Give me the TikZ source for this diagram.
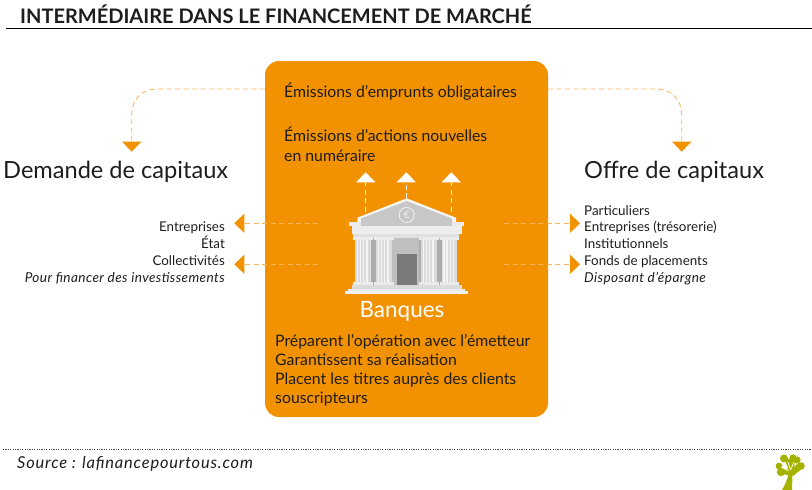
\documentclass[tikz,border=0pt]{standalone}
\usepackage{fontspec}
\setmainfont{Lato}
\usetikzlibrary{arrows.meta, positioning}
\definecolor{banqueorange}{HTML}{F39200}
\definecolor{fluxorange}{HTML}{F8B560}
\definecolor{treegreen}{HTML}{A5B300}
\definecolor{textgray}{HTML}{1D1D1B}

\begin{document}
\begin{tikzpicture}[x=1pt,y=-1pt,font=\color{textgray}]
        \tikzstyle{titre}=[anchor=base west,inner sep=0pt,font=\fontsize{20}{20}\selectfont\bfseries\color{textgray}]
        \tikzstyle{grand}=[anchor=base west,inner sep=0pt,font=\fontsize{23.6}{23.6}\selectfont\color{textgray}]
        \tikzstyle{moyen}=[anchor=base west,inner sep=0pt,font=\fontsize{15.8}{15.8}\selectfont\color{textgray}]
        \tikzstyle{petit}=[anchor=base west,inner sep=0pt,font=\fontsize{13.4}{13.4}\selectfont\color{textgray}]
        \tikzstyle{petitd}=[petit,anchor=base east]
        \tikzstyle{italique}=[font=\fontsize{13.6}{13.6}\selectfont\itshape\addfontfeature{LetterSpace=3}\color{textgray}]
        \tikzstyle{flux}=[draw=fluxorange,line width=0.9pt,dash pattern=on 5pt off 3.5pt,-{Triangle[length=10pt,width=19pt,color=banqueorange]}]
        \tikzstyle{fluxblanc}=[draw=white,line width=0.8pt,dash pattern=on 5pt off 3.5pt,-{Triangle[length=10pt,width=19pt,color=white]}]

        \useasboundingbox (0,0) rectangle (812,490);

        % Title and rules
        \node[titre] (titre) at (20,23) {INTERMÉDIAIRE DANS LE FINANCEMENT DE MARCHÉ};
        \coordinate (r1) at (6,28.5);
        \coordinate (r2) at (812,28.5);
        \draw[black,line width=0.9pt] (r1) -- (r2);
        \coordinate (p1) at (3,449.5);
        \coordinate (p2) at (812,449.5);
        \draw[black!70,line width=1pt,dash pattern=on 1.2pt off 1.2pt] (p1) -- (p2);
        \node[anchor=base west,inner sep=0pt,font=\fontsize{16.4}{16.4}\selectfont\itshape\addfontfeature{LetterSpace=5}\color{textgray}] (source) at (17,468) {Source : lafinancepourtous.com};

        % Orange box
        \node[fill=banqueorange,rounded corners=14pt,minimum width=283pt,minimum height=356pt,inner sep=0pt] (boite) at (406.5,239) {};

        \node[moyen] (em1) at (284,97) {Émissions d’emprunts obligataires};
        \node[moyen] (em2) at (284,141) {Émissions d’actions nouvelles};
        \node[moyen] (em3) at (284,161) {en numéraire};

        % Bank building
        \fill[black!4] (357.3,217.7) -- (406.7,198.3) -- (456,217.7) -- (456,226) -- (357.3,226) -- cycle;
        \fill[black!22] (361,218.5) -- (406.7,201) -- (452,218.5) -- (452,226) -- (361,226) -- cycle;
        \draw[black!5,line width=0.8pt] (406.7,215) circle (7.5);
        \node[inner sep=0pt,black!5,font=\fontsize{10}{10}\selectfont] (euro) at (406.7,215) {€};
        \fill[black!8] (349.3,222.3) rectangle (360.7,226);
        \fill[black!8] (452,222.3) rectangle (464,226);
        \fill[black!32] (370,236) rectangle (443,285);
        \fill[black!25] (392,236) rectangle (419,285);
        \fill[black!52] (396.7,254) rectangle (416.7,285);
        \fill[black!7] (351.7,226) rectangle (461.7,234);
        \fill[black!12] (353.3,234) rectangle (459.3,238);
        \foreach \x in {353.3,374.3,419.3,440}
        {
            \fill[black!8] (\x,236.7) rectangle +(19.3,3);
            \fill[black!14] (\x+2,239.7) rectangle +(15.3,42);
            \foreach \s in {1,...,4}
                \fill[black!4] (\x+\s*3.2,239.7) rectangle +(1.5,42);
            \fill[black!8] (\x,281.7) rectangle +(19.3,3.3);
        }
        \fill[black!14] (351.7,285) rectangle (461.7,289);
        \fill[black!8] (348,289) rectangle (465,291);
        \fill[black!5] (345,291) rectangle (468.3,294.3);

        \node[anchor=base,inner sep=0pt,font=\fontsize{22.5}{22.5}\selectfont\color{white}] (banques) at (402,317) {Banques};

        % Upward arrows
        \coordinate (u1) at (365.7,211.7);
        \coordinate (v1) at (365.7,172.3);
        \coordinate (u2) at (406.3,198);
        \coordinate (v2) at (406.3,172.3);
        \coordinate (u3) at (451.3,211.7);
        \coordinate (v3) at (451.3,172.3);
        \foreach \i in {1,2,3}
            \draw[fluxblanc] (u\i) -- (v\i);

        \node[moyen] (b1) at (275,346) {Préparent l’opération avec l’émetteur};
        \node[moyen] (b2) at (275,365) {Garantissent sa réalisation};
        \node[moyen] (b3) at (275,384) {Placent les titres auprès des clients};
        \node[moyen] (b4) at (275,403) {souscripteurs};

        % Left side
        \node[grand] (demande) at (3,178) {Demande de capitaux};
        \node[petitd] (g1) at (225,231.5) {Entreprises};
        \node[petitd] (g2) at (225,248) {État};
        \node[petitd] (g3) at (225,265) {Collectivités};
        \node[petitd,italique] (g4) at (225,282) {Pour financer des investissements};

        % Right side
        \node[grand] (offre) at (584,178) {Offre de capitaux};
        \node[petit] (d1) at (584,215) {Particuliers};
        \node[petit] (d2) at (584,231.5) {Entreprises (trésorerie)};
        \node[petit] (d3) at (584,248) {Institutionnels};
        \node[petit] (d4) at (584,265) {Fonds de placements};
        \node[petit,italique] (d5) at (584,282) {Disposant d’épargne};

        % Dashed connectors
        \coordinate (sg) at (265,89);
        \coordinate (tg) at (131.7,151.7);
        \coordinate (sd) at (548,89);
        \coordinate (td) at (681.7,151.7);
        \draw[flux] (sg) -- (157,89) .. controls (141,89) and (131.7,100) .. (131.7,115) -- (tg);
        \draw[flux] (sd) -- (656,89) .. controls (672,89) and (681.7,100) .. (681.7,115) -- (td);

        \coordinate (a1) at (318,223.3);
        \coordinate (a2) at (234.3,223.3);
        \coordinate (a3) at (318,264.3);
        \coordinate (a4) at (234.3,264.3);
        \coordinate (c1) at (504,223.3);
        \coordinate (c2) at (580,223.3);
        \coordinate (c3) at (504,264.3);
        \coordinate (c4) at (580,264.3);
        \draw[flux] (a1) -- (a2);
        \draw[flux] (a3) -- (a4);
        \draw[flux] (c1) -- (c2);
        \draw[flux] (c3) -- (c4);

        % Tree
        \fill[treegreen] (782,490) .. controls (786,483) and (788,478) .. (788.5,473) -- (792.5,473) .. controls (792.5,479) and (792,485) .. (792,490) -- cycle;
        \foreach \cx / \cy / \r in {781/472/4.2,779/466/3.4,784/458.5/4,789/463/3,793/458/3.6,797/460/3.6,801/466/3.8,797/468/3}
            \fill[treegreen] (\cx,\cy) circle (\r);
        \fill[treegreen] (776,467) -- (790,470) -- (792,476) -- (783,474) -- cycle;
        \fill[treegreen] (786,459) -- (796,459) -- (792,474) -- (789,474) -- cycle;
        \fill[treegreen] (803,468) -- (797,464) -- (790,472) -- (793,476) -- cycle;
        \draw[white,line width=0.7pt] (790.5,470) -- (788,462);
        \draw[white,line width=0.7pt] (790.5,470) -- (794,462);
        \draw[white,line width=0.7pt] (788.5,471) -- (781,467);
\end{tikzpicture}
\end{document}
